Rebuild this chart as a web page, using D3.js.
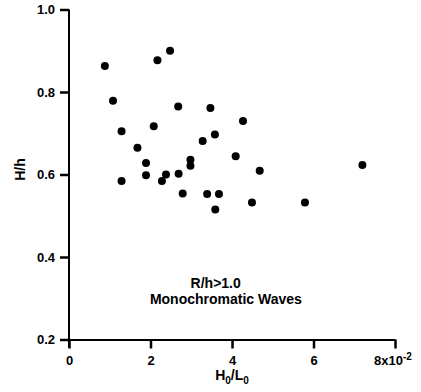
<!DOCTYPE html>
<html>
<head>
<meta charset="utf-8">
<script src="https://cdn.jsdelivr.net/npm/d3@7"></script>
<style>
  body { margin: 0; background: #fff; }
  svg text { font-family: 'Liberation Sans', Arial, Helvetica, sans-serif; fill: #000; }
</style>
</head>
<body>
<div id="chart"></div>
<script>
'use strict';

// data - H0/L0 (x 10^-2) and H/h
const steepness = [0.88, 2.17, 2.48, 1.08, 2.68, 1.29, 2.08, 1.68, 1.89, 1.89,
  1.29, 2.38, 2.28, 2.69, 2.98, 2.98, 2.79, 3.47, 4.27, 3.58,
  3.28, 4.09, 4.68, 3.39, 3.68, 3.59, 4.49, 5.79, 7.20];
const heightRatio = [0.863, 0.877, 0.900, 0.779, 0.765, 0.705, 0.717, 0.665, 0.628, 0.598,
  0.584, 0.600, 0.584, 0.602, 0.636, 0.621, 0.554, 0.761, 0.730, 0.697,
  0.681, 0.644, 0.609, 0.553, 0.553, 0.515, 0.532, 0.532, 0.623];
const xTicks = [0, 2, 4, 6, 8];
const yTicks = [0.2, 0.4, 0.6, 0.8, 1.0];
const noteLines = ['R/h>1.0', 'Monochromatic Waves'];

const dataset = steepness.map((x, i) => ({ x, y: heightRatio[i] }));

function drawScatter () {
  const dimensions = {
    width: 421,
    height: 392,
    margin: { top: 9.5, right: 26, bottom: 52.5, left: 69 },
  };
  dimensions.boundedWidth = dimensions.width - dimensions.margin.left - dimensions.margin.right;
  dimensions.boundedHeight = dimensions.height - dimensions.margin.top - dimensions.margin.bottom;

  const xScale = d3.scaleLinear()
    .domain([0, 8])
    .range([0, dimensions.boundedWidth]);

  const yScale = d3.scaleLinear()
    .domain([0.2, 1.0])
    .range([dimensions.boundedHeight, 0]);

  const wrapper = d3.select('#chart')
    .append('svg')
    .attr('width', dimensions.width)
    .attr('height', dimensions.height);

  const bounds = wrapper.append('g')
    .attr('transform', `translate(${dimensions.margin.left}, ${dimensions.margin.top})`);

  // axes
  const yAxis = bounds.append('g')
    .call(d3.axisLeft(yScale)
      .tickValues(yTicks)
      .tickFormat(d3.format('.1f'))
      .tickSizeInner(9)
      .tickSizeOuter(0)
      .tickPadding(5));

  const xAxis = bounds.append('g')
    .attr('transform', `translate(0, ${dimensions.boundedHeight})`)
    .call(d3.axisBottom(xScale)
      .tickValues(xTicks)
      .tickFormat(d => d === 8 ? '8x10' : d)
      .tickSizeInner(9)
      .tickSizeOuter(0)
      .tickPadding(7));

  // superscript on the last x tick
  xAxis.selectAll('.tick text')
    .filter(d => d === 8)
    .attr('dx', '-0.2em')
    .append('tspan')
    .attr('dy', '-0.45em')
    .attr('font-size', 10)
    .text('-2');

  [xAxis, yAxis].forEach(axis => {
    axis.select('.domain')
      .attr('stroke', '#000')
      .attr('stroke-width', 2);
    axis.selectAll('.tick line')
      .attr('stroke', '#000')
      .attr('stroke-width', 2.5);
    axis.selectAll('.tick text')
      .attr('font-size', 13)
      .attr('font-weight', 'bold');
  });

  // the y axis line pokes below the x axis like the tick at 0
  yAxis.select('.domain')
    .attr('d', `M0,${dimensions.boundedHeight + 8}V0`);

  // points
  bounds.append('g')
    .selectAll('circle')
    .data(dataset)
    .join('circle')
    .attr('cx', d => xScale(d.x))
    .attr('cy', d => yScale(d.y))
    .attr('r', 4)
    .attr('fill', '#000');

  // note
  const note = bounds.append('text')
    .attr('font-size', 14)
    .attr('font-weight', 'bold')
    .attr('text-anchor', 'middle');
  note.selectAll('tspan')
    .data(noteLines)
    .join('tspan')
    .attr('x', (d, i) => i === 0 ? xScale(3.6) : xScale(3.85))
    .attr('y', (d, i) => yScale(0.325) + i * 16)
    .text(d => d);

  // axis titles
  const xTitle = wrapper.append('text')
    .attr('x', dimensions.margin.left + xScale(4))
    .attr('y', 380)
    .attr('font-size', 14)
    .attr('font-weight', 'bold')
    .attr('text-anchor', 'middle');
  xTitle.append('tspan').text('H');
  xTitle.append('tspan').attr('dy', 4).attr('font-size', 10).text('0');
  xTitle.append('tspan').attr('dy', -4).text('/L');
  xTitle.append('tspan').attr('dy', 4).attr('font-size', 10).text('0');

  wrapper.append('text')
    .attr('transform', `translate(25, ${dimensions.margin.top + yScale(0.612)}) rotate(-90)`)
    .attr('font-size', 14)
    .attr('font-weight', 'bold')
    .attr('text-anchor', 'middle')
    .text('H/h');
}

drawScatter();
</script>
</body>
</html>
